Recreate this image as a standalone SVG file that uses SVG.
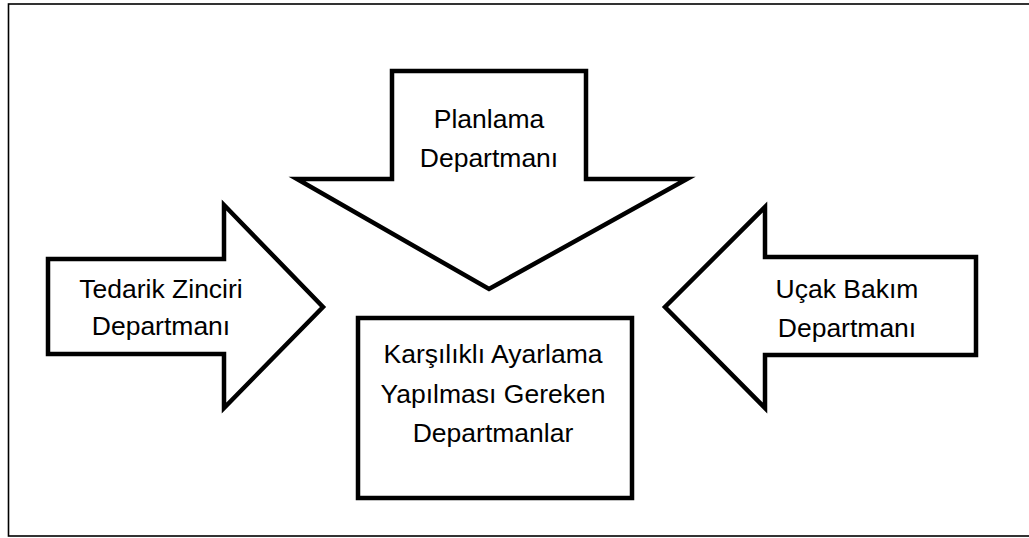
<svg xmlns="http://www.w3.org/2000/svg" width="1029" height="538" viewBox="0 0 1029 538">
<style>
.shape{fill:#fff;stroke:#000;stroke-width:4.5;stroke-linejoin:miter}
.lbl{font-family:"Liberation Sans",Arial,sans-serif;font-size:26.5px;fill:#000;text-anchor:middle}
</style>
<rect x="0" y="0" width="1029" height="538" fill="#fff"/>
<rect x="8.5" y="4" width="1030" height="532" fill="none" stroke="#000" stroke-width="1.6"/>
<g id="connectors"></g>
<g id="planlama">
<polygon class="shape" points="392,71 586,71 586,179 687,179 489,289 297,179 392,179"/>
<text class="lbl" x="489" y="128">Planlama</text>
<text class="lbl" x="489" y="167">Departmanı</text>
</g>
<g id="tedarik">
<polygon class="shape" points="48,259 224,259 224,205 323,307 224,408 224,354 48,354"/>
<text class="lbl" x="161" y="298">Tedarik Zinciri</text>
<text class="lbl" x="161" y="335">Departmanı</text>
</g>
<g id="ucak">
<polygon class="shape" points="976,257 765,257 765,207 665,307 765,408 765,355 976,355"/>
<text class="lbl" x="847" y="298">Uçak Bakım</text>
<text class="lbl" x="847" y="337">Departmanı</text>
</g>
<g id="merkez">
<rect class="shape" x="358" y="318" width="274" height="180"/>
<text class="lbl" x="493" y="363">Karşılıklı Ayarlama</text>
<text class="lbl" x="493" y="403">Yapılması Gereken</text>
<text class="lbl" x="493" y="442">Departmanlar</text>
</g>
</svg>
